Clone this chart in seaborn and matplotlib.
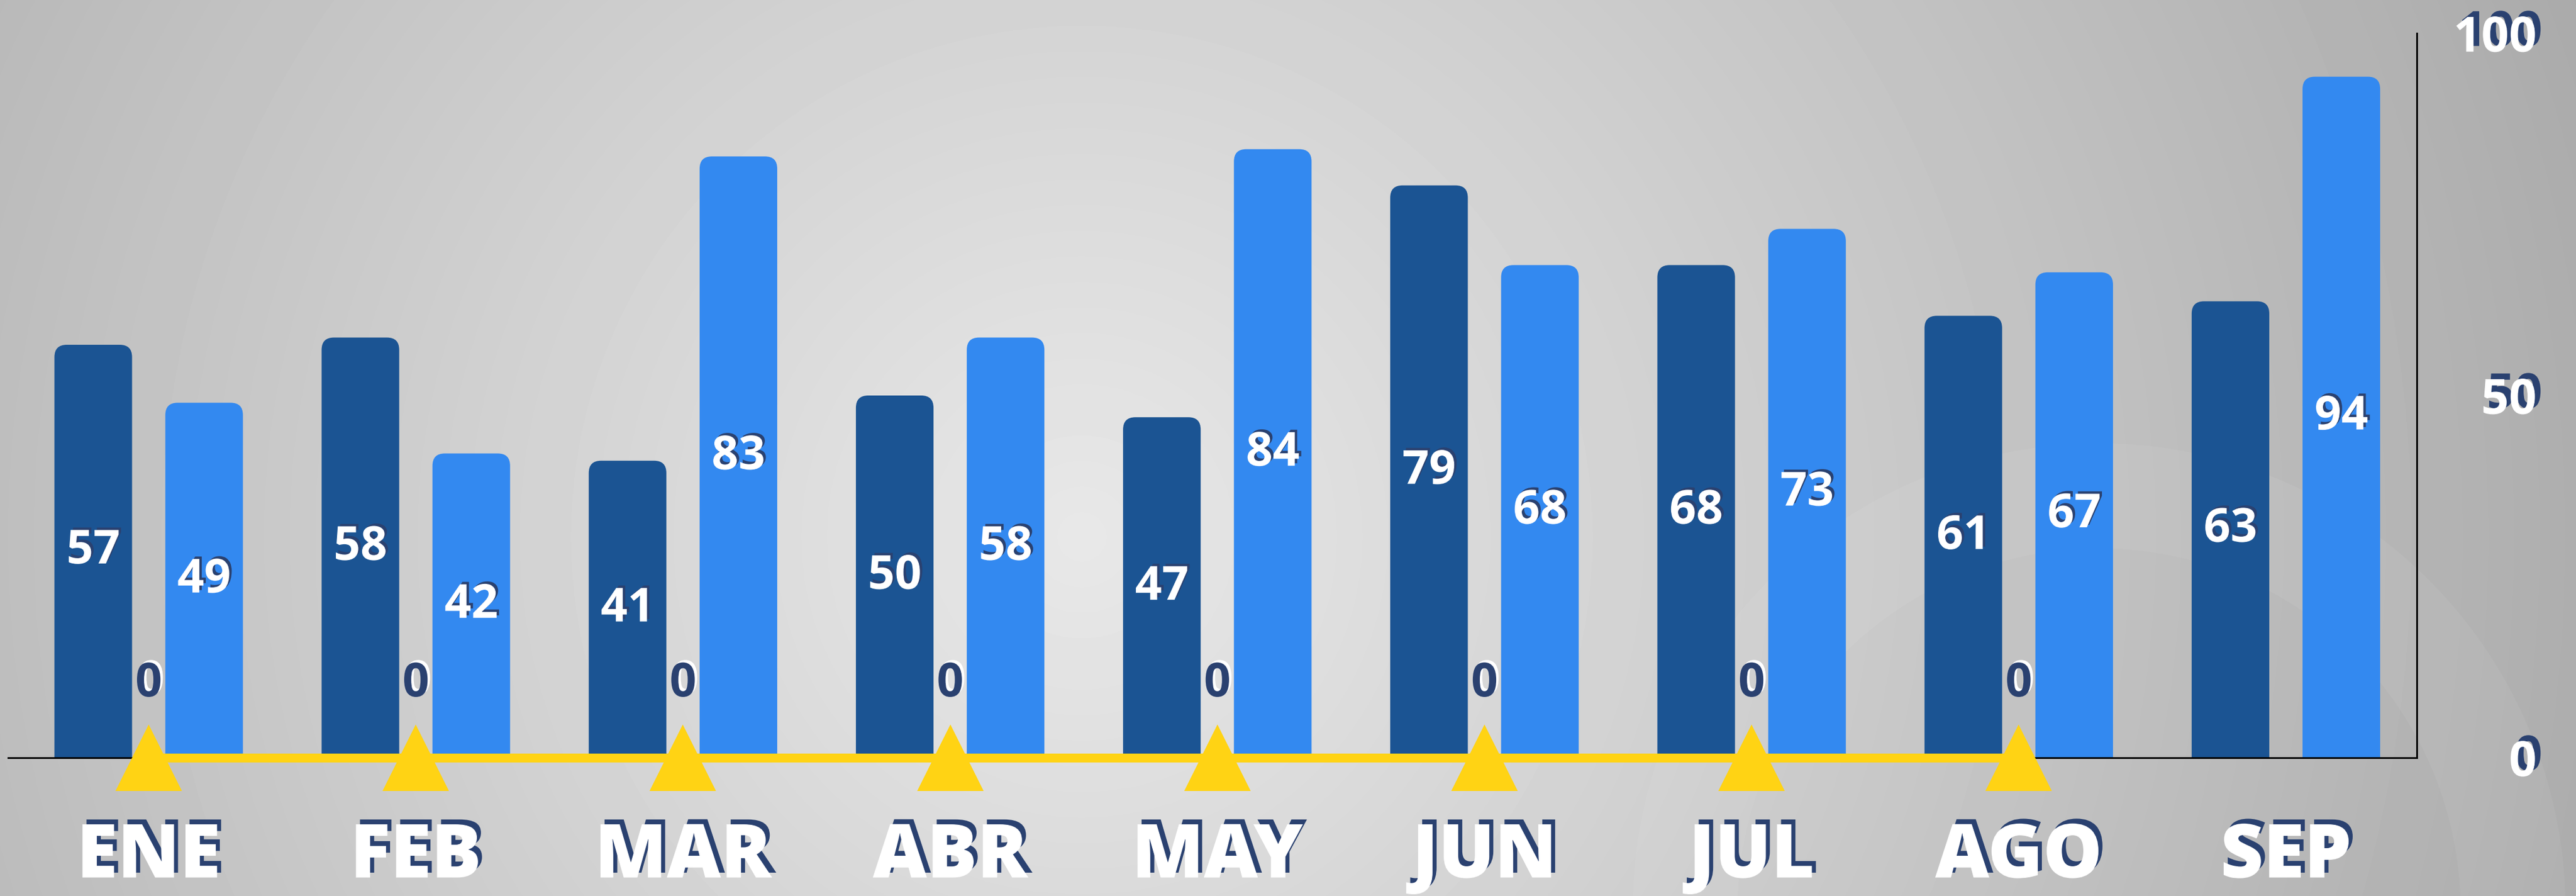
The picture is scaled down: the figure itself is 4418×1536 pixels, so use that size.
import matplotlib
matplotlib.use("Agg")
import matplotlib.pyplot as plt
import matplotlib.patheffects as pe
from matplotlib.patches import FancyBboxPatch, Wedge
import seaborn as sns
import pandas as pd
import numpy as np

# data
months = ["ENE", "FEB", "MAR", "ABR", "MAY", "JUN", "JUL", "AGO", "SEP"]
serie_1 = [57, 58, 41, 50, 47, 79, 68, 61, 63]
serie_2 = [49, 42, 83, 58, 84, 68, 73, 67, 94]
linea = [0, 0, 0, 0, 0, 0, 0, 0]  # ENE..AGO, nothing for SEP
y_ticks = [0, 50, 100]

dark_blue = "#1B5493"
light_blue = "#3389F0"
yellow = "#FFD314"
navy = "#2A4170"

df = pd.DataFrame({
    "mes": months * 2,
    "serie": ["Serie 1"] * len(months) + ["Serie 2"] * len(months),
    "valor": serie_1 + serie_2,
})

sns.set_theme(style="white")
plt.rcParams["font.family"] = ["Open Sans", "DejaVu Sans"]

W, H = 4418, 1536
fig = plt.figure(figsize=(W / 100, H / 100), dpi=100)

# radial grey background
bg = fig.add_axes([0, 0, 1, 1], zorder=0)
yy, xx = np.mgrid[0:H, 0:W]
d = np.sqrt((xx - 1855) ** 2 + (yy - 920) ** 2)
grad = np.clip(0.91 - 8.9e-5 * d, 0, 1)
bg.imshow(grad, cmap="gray", vmin=0, vmax=1, aspect="auto",
          extent=[0, 1, 0, 1], origin="upper", interpolation="bilinear")
bg.add_patch(Wedge((36.0, -0.24), 8.0, 0, 360, width=1.8,
                   transform=fig.dpi_scale_trans, facecolor="white",
                   alpha=0.06, edgecolor="none"))
bg.set_axis_off()

ax = fig.add_axes([14 / W, 1 - 1299 / H, (4145 - 14) / W, (1299 - 57) / H], zorder=1)
ax.patch.set_alpha(0)

sns.barplot(data=df, x="mes", y="valor", hue="serie",
            palette=[dark_blue, light_blue], saturation=1,
            width=0.83, gap=0.3, legend=False, ax=ax)
ax.set_xlim(-0.526, 8.49)
ax.set_ylim(0, 100)

shadow_dark = lambda dx, dy: [pe.SimplePatchShadow(offset=(dx, dy), shadow_rgbFace=navy, alpha=1), pe.Normal()]
shadow_white = lambda dx, dy: [pe.SimplePatchShadow(offset=(dx, dy), shadow_rgbFace="white", alpha=1), pe.Normal()]

# value labels centred in the bars
for cont in ax.containers:
    txts = ax.bar_label(cont, label_type="center", color="white",
                        fontsize=58, fontweight="bold")
    for t in txts:
        t.set_path_effects(shadow_dark(3, 3))

# rounded tops
fig.canvas.draw()
p0 = ax.transData.transform((0, 0))
p1 = ax.transData.transform((1, 1))
aspect = (p1[0] - p0[0]) / (p1[1] - p0[1])
r = 0.046
for bar in list(ax.patches):
    x, y = bar.get_x(), bar.get_y()
    w, h = bar.get_width(), bar.get_height()
    fc = bar.get_facecolor()
    bar.remove()
    ax.add_patch(FancyBboxPatch((x, y - 5), w, h + 5,
                                boxstyle=f"round,pad=0,rounding_size={r}",
                                mutation_aspect=aspect, facecolor=fc,
                                edgecolor="none", zorder=2))

# yellow line with triangles
sns.lineplot(x=np.arange(len(linea)), y=linea, ax=ax, color=yellow,
             linewidth=11, marker="^", markersize=82, markeredgewidth=0,
             zorder=4, clip_on=False)
for i, v in enumerate(linea):
    ax.annotate(str(v), (i, v), xytext=(0, 126), textcoords="offset pixels",
                ha="center", va="center", fontsize=58, fontweight="bold",
                color=navy, path_effects=shadow_white(3, 3), zorder=5,
                annotation_clip=False)

# axes styling
sns.despine(ax=ax, left=True, top=True, right=False, bottom=False)
for s in ("bottom", "right"):
    ax.spines[s].set_color("black")
    ax.spines[s].set_linewidth(2.2)
ax.set_xlabel("")
ax.set_ylabel("")

ax.yaxis.tick_right()
ax.set_yticks(y_ticks)
ax.tick_params(axis="y", length=0, pad=148, labelsize=60, labelcolor="white")
for lbl in ax.get_yticklabels():
    lbl.set_horizontalalignment("right")
    lbl.set_fontweight("bold")
    lbl.set_path_effects(shadow_dark(7, 7))

ax.set_xticks(range(len(months)))
ax.set_xticklabels(months)
ax.tick_params(axis="x", length=0, pad=78, labelsize=92, labelcolor="white")
for lbl in ax.get_xticklabels():
    lbl.set_fontweight("heavy")
    lbl.set_path_effects(shadow_dark(5, 6))

fig.savefig("out.png", dpi=100)
